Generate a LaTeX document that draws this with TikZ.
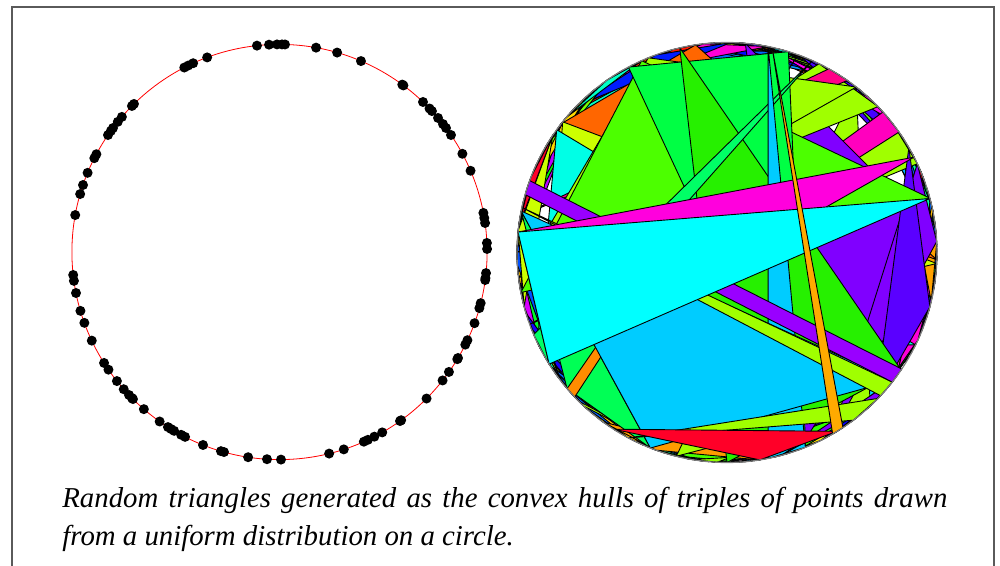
\documentclass[tikz,border=0pt]{standalone}
\usepackage{fontspec}
\setmainfont{Liberation Serif}
\usepackage{tikz}
\usetikzlibrary{calc}
\usepackage{xcolor}
\definecolor{myframe}{RGB}{90,90,90}
\definecolor{mycyan}{RGB}{0,255,255}
\definecolor{mydeep}{RGB}{0,204,255}
\definecolor{myaqua}{RGB}{0,255,230}
\definecolor{myteal}{RGB}{0,255,200}
\definecolor{myspring}{RGB}{0,255,68}
\definecolor{myspringb}{RGB}{0,255,102}
\definecolor{mygreenb}{RGB}{0,255,85}
\definecolor{mygreen}{RGB}{38,240,0}
\definecolor{mylime}{RGB}{76,255,0}
\definecolor{mychart}{RGB}{160,255,0}
\definecolor{myyellow}{RGB}{204,255,0}
\definecolor{myorange}{RGB}{255,170,0}
\definecolor{mydorange}{RGB}{255,140,0}
\definecolor{myrorange}{RGB}{255,102,0}
\definecolor{myred}{RGB}{255,0,40}
\definecolor{mymagenta}{RGB}{255,0,221}
\definecolor{mypink}{RGB}{255,0,190}
\definecolor{myrose}{RGB}{255,0,136}
\definecolor{myviolet}{RGB}{128,0,255}
\definecolor{mypurple}{RGB}{153,0,255}
\definecolor{myblue}{RGB}{90,0,255}

% one triangle with its corners on the right circle (angles in degrees)
\newcommand{\hulltri}[4]{\filldraw[tri,fill=#4] (#1:210) -- (#2:210) -- (#3:210) -- cycle;}

\begin{document}
\begin{tikzpicture}[x=0.5pt, y=-0.5pt,
  tri/.style={draw=black, line width=0.45pt, line join=round},
  dot/.style={fill=black},
  caption/.style={anchor=north west, inner sep=0pt, text width=442.5pt, align=justify,
    font=\fontsize{14.4pt}{19pt}\selectfont\itshape}]
  \useasboundingbox (0,0) rectangle (1000,566);
  \draw[myframe, line width=0.6pt] (12,570) -- (12,7) -- (994,7) -- (994,570);

  \coordinate (lc) at (279.5,252);
  \coordinate (rc) at (727,252.5);

  % points on the circle
  \draw[red, line width=0.4pt] (lc) circle[radius=103.8pt];
  \foreach \x/\y in {257/46, 269/44, 277/44, 282/44, 285/44, 316/48, 337/53, 361/61,
      402/85, 403/86, 423/102, 429/109, 432/111, 438/118, 443/124, 446/128, 451/135,
      462/154, 470/171, 483/213, 484/218, 485/223, 486/243, 486/249, 485/273, 485/278,
      207/57, 184/67, 188/65, 193/63, 132/106, 134/104, 122/117, 118/122, 113/128,
      111/131, 108/135, 96/154, 94/158, 88/173, 83/185, 80/194, 75/215, 73/275,
      73/281, 76/293, 80/311, 84/323, 91/341, 104/363, 108/370, 117/381, 124/389,
      129/395, 132/398, 133/399, 144/409, 160/421, 168/427, 171/429, 174/431,
      181/435, 185/437, 203/445, 221/451, 224/452, 248/458, 267/459, 281/459,
      329/453, 344/450, 364/442, 368/440, 374/436, 382/432, 400/421, 401/420,
      426/398, 442/380, 449/372, 457/359, 458/358, 464/344, 467/340, 474/323,
      479/308, 480/303, 485/280}
    \fill[dot] ($(lc)!103.8pt!(\x,\y)$) circle (2.5pt);

  % triangles
  \begin{scope}[shift={(rc)}]
    \pgfmathsetseed{31}
    \foreach \i in {1,...,260}{
      \pgfmathsetmacro{\ta}{360*rnd}
      \pgfmathsetmacro{\tb}{\ta+4+46*rnd}
      \pgfmathsetmacro{\tc}{\ta+50*rnd}
      \pgfmathsetmacro{\hu}{rnd}
      \convertcolorspec{hsb}{\hu,1,1}{rgb}\huespec
      \definecolor{randhue}{rgb}{\huespec}
      \filldraw[tri,fill=randhue] (\ta:210) -- (\tb:210) -- (\tc:210) -- cycle;
    }
    \hulltri{217.8}{261.4}{2}{myrorange}
    \hulltri{218.5}{3}{150}{myyellow}
    \hulltri{308}{104}{47}{mychart}
    \hulltri{215.8}{26.1}{154.5}{myaqua}
    \hulltri{322}{335}{160}{mychart}
    \hulltri{318}{325}{150}{mypink}
    \hulltri{275}{355}{70}{myviolet}
    \hulltri{335}{357}{60}{myviolet}
    \hulltri{330}{15}{45}{myblue}
    \hulltri{296}{316}{180}{mychart}
    \hulltri{299}{305}{190}{myrose}
    \hulltri{308}{248}{173}{mychart}
    \hulltri{220}{246}{235}{myteal}
    \hulltri{186}{214}{165}{myyellow}
    \hulltri{187}{201}{214}{myred}
    \hulltri{139.6}{111.4}{191.4}{mygreenb}
    \hulltri{136.5}{139.6}{289.8}{mydorange}
    \hulltri{246}{169}{345}{mylime}
    \hulltri{242}{287}{68}{myspring}
    \hulltri{257}{90}{34}{mygreen}
    \hulltri{294}{149}{157}{myspringb}
    \hulltri{281.3}{78.7}{68.1}{mydeep}
    \hulltri{191.4}{111.4}{37.5}{mydeep}
    \hulltri{37.5}{47}{75}{myviolet}
    \hulltri{44}{53}{118}{mychart}
    \hulltri{192.4}{38.1}{43}{mychart}
    \filldraw[tri,fill=mypurple] (200:210) -- (33.7:210) -- (38.1:210) -- (196:210) -- cycle;
    \hulltri{333}{185.6}{147.9}{mymagenta}
    \hulltri{185.6}{345.1}{147.9}{mycyan}
    \hulltri{122.7}{58.4}{81}{myred}
    \hulltri{282.4}{59.8}{56.5}{myorange}
  \end{scope}
  \draw[gray, line width=0.6pt] (rc) circle[radius=105pt];

  \node[caption] (cap) at (62,487) {Random triangles generated as the convex hulls of triples of points drawn from a uniform distribution on a circle.};
\end{tikzpicture}
\end{document}
